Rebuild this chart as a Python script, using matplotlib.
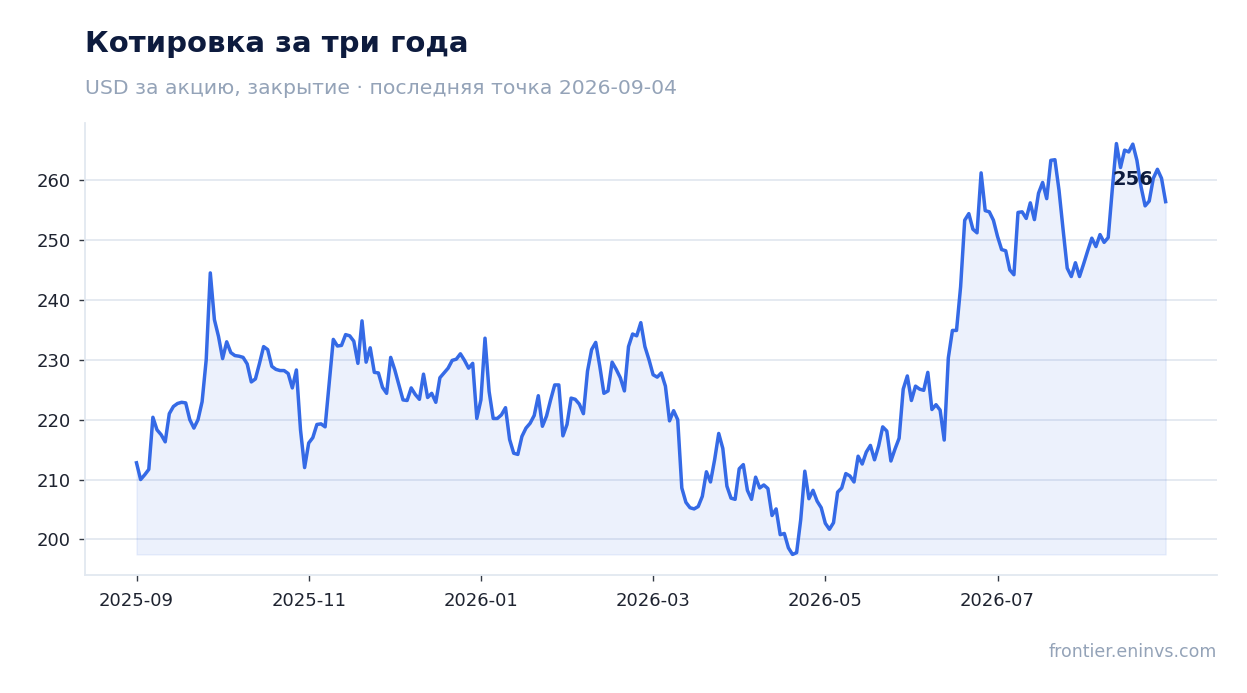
import matplotlib
matplotlib.use("Agg")
import matplotlib.pyplot as plt
import numpy as np
import pandas as pd

start_date = "2025-09-01"
end_date = "2026-09-04"
tick_step = 42

prices = [
    212.8, 210.0, 210.8, 211.7, 220.4, 218.3, 217.5, 216.3, 221.0, 222.2,
    222.7, 222.9, 222.8, 220.0, 218.6, 220.0, 223.0, 230.0, 244.5, 236.7,
    233.9, 230.2, 233.0, 231.2, 230.7, 230.6, 230.4, 229.3, 226.3, 226.8,
    229.4, 232.2, 231.7, 228.9, 228.4, 228.2, 228.2, 227.7, 225.3, 228.3,
    218.3, 212.0, 216.1, 217.0, 219.2, 219.3, 218.8, 226.1, 233.4, 232.3,
    232.4, 234.2, 234.0, 233.1, 229.4, 236.5, 229.6, 232.0, 227.9, 227.8,
    225.4, 224.4, 230.4, 228.3, 225.8, 223.3, 223.2, 225.3, 224.2, 223.4,
    227.6, 223.7, 224.4, 222.9, 227.0, 227.8, 228.6, 229.9, 230.1, 231.0,
    229.9, 228.6, 229.4, 220.2, 223.3, 233.6, 224.7, 220.2, 220.2, 220.8,
    222.0, 216.7, 214.4, 214.2, 217.2, 218.6, 219.4, 220.7, 224.0, 218.9,
    220.6, 223.3, 225.8, 225.8, 217.3, 219.2, 223.6, 223.4, 222.6, 221.0,
    228.1, 231.7, 232.9, 228.9, 224.4, 224.8, 229.6, 228.4, 227.0, 224.8,
    232.2, 234.3, 234.0, 236.2, 232.2, 230.0, 227.5, 227.1, 227.8, 225.6,
    219.8, 221.5, 220.0, 208.6, 206.2, 205.3, 205.1, 205.5, 207.2, 211.3,
    209.6, 213.3, 217.7, 215.2, 208.9, 206.9, 206.7, 211.8, 212.5, 208.2,
    206.7, 210.4, 208.6, 209.1, 208.5, 204.0, 205.1, 200.8, 201.0, 198.6,
    197.5, 197.8, 203.3, 211.4, 206.8, 208.2, 206.4, 205.3, 202.7, 201.7,
    202.8, 207.9, 208.6, 211.0, 210.6, 209.6, 213.9, 212.6, 214.6, 215.7,
    213.3, 215.6, 218.8, 218.1, 213.1, 215.1, 216.9, 225.1, 227.3, 223.2,
    225.6, 225.1, 224.9, 227.9, 221.7, 222.5, 221.6, 216.6, 230.3, 234.9,
    234.9, 242.2, 253.3, 254.4, 251.8, 251.2, 261.2, 254.9, 254.7, 253.3,
    250.6, 248.4, 248.2, 245.0, 244.2, 254.6, 254.7, 253.6, 256.2, 253.4,
    257.8, 259.6, 256.9, 263.3, 263.4, 258.3, 251.7, 245.3, 243.9, 246.2,
    243.9, 246.0, 248.2, 250.3, 248.9, 250.9, 249.6, 250.4, 258.5, 266.1,
    262.1, 265.0, 264.7, 266.0, 263.3, 258.9, 255.7, 256.5, 260.3, 261.8,
    260.3, 256.4,
]

title = "Котировка за три года"
subtitle = "USD за акцию, закрытие · последняя точка 2026-09-04"
source = "frontier.eninvs.com"
y_ticks = [200, 210, 220, 230, 240, 250, 260]

values = np.array(prices)
dates = pd.date_range(start_date, end_date, periods=len(values))

line_color = "#356AE6"
navy = "#0d1b3e"
gray = "#94a3b8"
grid_color = "#e3e8f0"

fig = plt.figure(figsize=(12.47, 6.93), dpi=100)
ax = fig.add_axes([0.0682, 0.1703, 0.9078, 0.6522])

ax.fill_between(dates, values, values.min(), color=line_color, alpha=0.09, linewidth=1.0)
ax.plot(dates, values, color=line_color, linewidth=2.5, solid_joinstyle="round")

ax.set_yticks(y_ticks)
ax.yaxis.grid(True, color=grid_color, linewidth=1.3)
ax.xaxis.grid(False)
ax.set_axisbelow(True)

tick_dates = dates[::tick_step]
ax.set_xticks(tick_dates)
ax.set_xticklabels([d.strftime("%Y-%m") for d in tick_dates])

for s in ["top", "right"]:
    ax.spines[s].set_visible(False)
for s in ["left", "bottom"]:
    ax.spines[s].set_color("#e2e8f0")
    ax.spines[s].set_linewidth(1.3)

ax.tick_params(axis="both", colors="#333a45", labelcolor="#1e2330", labelsize=13,
               length=4.5, width=1.0)
ax.tick_params(axis="y", pad=6)
ax.tick_params(axis="x", pad=8)

ax.annotate(f"{int(values[-1])}", xy=(dates[-1], values[-1]),
            xytext=(-9, 9), textcoords="offset points",
            ha="right", va="bottom", fontsize=14, fontweight="bold", color=navy)

fig.text(0.0682, 0.936, title, fontsize=21, fontweight="bold", color=navy,
         ha="left", va="center")
fig.text(0.0682, 0.873, subtitle, fontsize=14.7, color=gray, ha="left", va="center")
fig.text(0.976, 0.059, source, fontsize=12.5, color=gray, ha="right", va="center")

fig.savefig("out.png", dpi=100)
